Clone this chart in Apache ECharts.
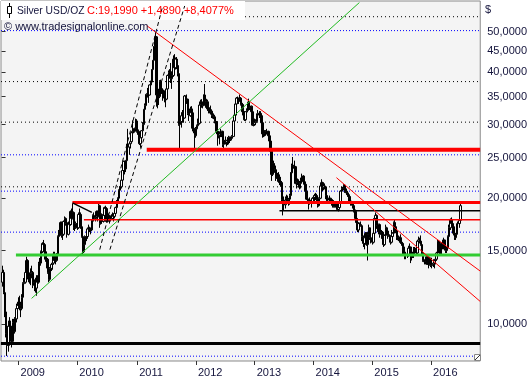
<!DOCTYPE html>
<html><head><meta charset="utf-8">
<script src="https://cdn.jsdelivr.net/npm/echarts@6/dist/echarts.min.js"></script>
<style>html,body{margin:0;padding:0;background:#fff}#c{width:530px;height:380px}</style>
</head><body><div id="c"></div>
<script>
// ---------------- data ----------------
const seriesName = 'Silver USD/OZ';
const sourceNote = '\u00a9 www.tradesignalonline.com';
const currencyUnit = '$';
const axisStartWeek = '2008-09-19';   // first (empty) weekly slot of the axis
const axisWeekCount = 424;
const firstCandleWeek = '2008-09-26';
const yTickValues = [10, 15, 20, 25, 30, 35, 40, 45, 50];

// weekly candles [open, high, low, close]
const ohlc2008 = [[12.6,13.8,12.3,13.3],[13.3,13.5,11.8,11.9],[11.9,12.3,10.4,10.7],[10.7,11.2,9.3,9.5],[9.5,9.8,8.4,8.9],[8.9,10.2,8.6,9.9],[9.9,10.4,9.4,9.9],[9.9,10.2,9.2,9.4],[9.4,9.7,8.8,9.1],[9.1,10.3,9.0,10.1],[10.1,10.3,9.2,9.6],[9.6,10.4,9.5,10.3],[10.3,11.2,10.1,10.9],[10.9,11.3,10.6,11.1]];
const ohlc2009 = [[11.1,11.6,10.9,11.3],[11.3,11.7,10.8,11.1],[11.1,11.3,10.4,10.9],[10.9,11.8,10.8,11.6],[11.6,12.6,11.5,12.5],[12.5,12.9,12.1,12.6],[12.6,13.5,12.5,13.3],[13.3,14.5,13.2,14.2],[14.2,14.3,12.8,13.0],[13.0,13.3,12.6,13.0],[13.0,13.3,12.5,12.9],[12.9,13.6,12.4,13.2],[13.2,13.8,13.0,13.3],[13.3,13.4,12.2,12.4],[12.4,12.8,12.0,12.6],[12.6,12.8,11.9,12.2],[12.2,13.1,11.7,12.9],[12.9,13.1,12.3,12.6],[12.6,14.1,12.5,14.0],[14.0,14.4,13.7,14.0],[14.0,15.0,13.8,14.9],[14.9,15.7,14.8,15.6],[15.6,15.9,15.2,15.5],[15.5,15.6,14.8,14.9],[14.9,15.1,14.1,14.3],[14.3,14.5,13.6,14.3],[14.3,14.4,13.2,13.3],[13.3,13.5,12.6,12.8],[12.8,13.7,12.7,13.6],[13.6,14.0,13.4,13.9],[13.9,14.1,13.5,14.0],[14.0,14.9,13.9,14.7],[14.7,14.9,14.0,14.2],[14.2,14.4,13.9,14.2],[14.2,14.8,14.1,14.7],[14.7,16.3,14.6,16.2],[16.2,16.8,15.9,16.7],[16.7,17.6,16.5,17.5],[17.5,17.6,16.1,16.3],[16.3,16.7,15.9,16.4],[16.4,17.7,16.3,17.6],[17.6,18.1,17.3,17.9],[17.9,18.0,17.2,17.4],[17.4,17.5,16.1,16.4],[16.4,17.6,16.3,17.5],[17.5,17.8,17.0,17.3],[17.3,18.7,17.2,18.6],[18.6,18.9,17.3,17.9],[17.9,19.45,17.8,18.5],[18.5,18.6,16.8,17.0],[17.0,17.6,16.7,17.0],[17.0,17.6,16.9,17.4]];
const ohlc2010 = [[17.4,17.5,16.8,17.0],[17.0,18.5,16.9,18.3],[18.3,18.9,17.9,18.3],[18.3,18.5,16.9,17.1],[17.1,17.3,16.1,16.2],[16.2,16.4,14.6,14.9],[14.9,15.8,14.8,15.5],[15.5,16.3,15.4,16.2],[16.2,16.4,15.8,16.2],[16.2,17.0,16.0,16.9],[16.9,17.3,16.7,17.0],[17.0,17.1,16.6,16.8],[16.8,16.9,16.4,16.8],[16.8,17.8,16.7,17.7],[17.7,18.3,17.6,18.2],[18.2,18.5,17.6,17.9],[17.9,18.2,17.6,18.0],[18.0,18.7,17.9,18.6],[18.6,18.7,17.6,18.1],[18.1,19.6,18.0,19.2],[19.2,19.3,17.0,17.4],[17.4,18.4,17.3,18.3],[18.3,18.4,17.4,17.6],[17.6,18.3,17.5,18.2],[18.2,19.1,18.1,19.0],[19.0,19.2,18.5,18.9],[18.9,19.0,17.5,17.6],[17.6,18.3,17.5,18.2],[18.2,18.4,17.8,18.0],[18.0,18.2,17.4,17.9],[17.9,18.2,17.6,17.9],[17.9,18.5,17.8,18.3],[18.3,18.4,17.6,18.1],[18.1,18.5,17.9,18.4],[18.4,19.1,18.3,19.0],[19.0,19.8,18.9,19.7],[19.7,20.1,19.4,20.0],[20.0,21.0,19.9,20.9],[20.9,21.4,20.6,21.3],[21.3,22.2,21.1,22.1],[22.1,23.5,21.9,23.3],[23.3,24.6,22.8,24.5],[24.5,24.6,22.8,23.5],[23.5,24.7,23.1,24.6],[24.6,27.0,24.4,26.8],[26.8,29.3,25.8,26.5],[26.5,27.2,25.4,27.0],[27.0,28.2,26.3,27.3],[27.3,28.8,27.2,28.7],[28.7,30.7,28.3,28.9],[28.9,29.4,28.6,28.9],[28.9,29.5,28.7,29.3],[29.3,31.0,29.2,30.6]];
const ohlc2011 = [[30.6,30.9,28.7,28.9],[28.9,29.2,28.0,28.4],[28.4,28.7,26.8,27.0],[27.0,28.1,26.4,27.9],[27.9,29.1,27.5,29.0],[29.0,30.4,28.8,30.0],[30.0,32.7,29.9,32.6],[32.6,33.7,31.4,33.3],[33.3,35.5,33.1,35.4],[35.4,36.7,34.8,35.6],[35.6,36.2,33.8,35.3],[35.3,37.4,35.2,37.3],[37.3,38.2,36.8,37.9],[37.9,40.7,37.8,40.6],[40.6,42.8,40.0,42.7],[42.7,46.2,42.6,46.0],[46.0,49.8,45.2,48.6],[48.6,48.8,33.1,35.3],[35.3,38.5,32.8,35.4],[35.4,36.5,33.4,35.0],[35.0,38.3,34.7,38.0],[38.0,38.4,35.8,36.5],[36.5,38.0,35.5,36.3],[36.3,36.6,34.2,35.3],[35.3,36.2,33.9,34.7],[34.7,35.2,33.0,34.5],[34.5,36.8,34.3,36.5],[36.5,39.5,36.1,39.3],[39.3,40.4,38.7,40.0],[40.0,40.7,38.6,40.0],[40.0,42.1,37.7,38.6],[38.6,40.2,36.5,39.3],[39.3,43.9,39.0,43.0],[43.0,44.2,39.5,41.0],[41.0,43.4,40.6,43.0],[43.0,43.5,40.7,41.5],[41.5,41.9,39.1,39.7],[39.7,40.1,29.8,30.0],[30.0,32.5,26.1,30.5],[30.5,32.1,29.5,31.5],[31.5,32.5,30.3,32.0],[32.0,32.3,30.3,31.1],[31.1,35.3,31.0,35.1],[35.1,35.2,32.3,34.3],[34.3,35.4,33.6,34.5],[34.5,34.6,31.6,31.9],[31.9,32.4,30.6,31.5],[31.5,33.1,31.3,32.7],[32.7,33.2,31.8,32.0],[32.0,32.3,28.9,29.4],[29.4,29.7,28.6,29.2],[29.2,29.3,26.2,28.2]];
const ohlc2012 = [[28.2,29.6,27.9,29.3],[29.3,30.0,28.6,29.8],[29.8,31.0,29.5,30.2],[30.2,33.6,30.0,33.4],[33.4,34.4,32.9,34.0],[34.0,34.5,32.9,33.5],[33.5,33.9,32.8,33.3],[33.3,35.4,33.2,35.3],[35.3,37.5,34.3,34.5],[34.5,34.8,32.9,34.0],[34.0,34.4,32.4,32.7],[32.7,33.0,31.9,32.4],[32.4,33.0,31.9,32.5],[32.5,33.3,31.7,32.3],[32.3,32.6,31.1,31.5],[31.5,32.0,31.0,31.6],[31.6,31.9,30.9,31.3],[31.3,31.5,30.2,30.5],[30.5,30.6,28.5,28.9],[28.9,29.4,26.7,28.5],[28.5,28.9,27.8,28.3],[28.3,28.9,26.9,28.5],[28.5,29.3,28.0,28.5],[28.5,29.0,28.0,28.9],[28.9,29.0,26.5,26.9],[26.9,27.8,26.1,27.5],[27.5,28.1,26.9,27.2],[27.2,27.5,26.6,27.5],[27.5,28.0,26.8,27.4],[27.4,28.2,26.9,27.9],[27.9,28.1,27.1,27.6],[27.6,28.1,27.4,27.8],[27.8,28.3,27.5,28.1],[28.1,30.8,28.0,30.6],[30.6,31.7,30.2,31.6],[31.6,33.7,31.3,33.6],[33.6,34.9,32.5,34.7],[34.7,35.0,33.9,34.3],[34.3,34.8,33.6,34.5],[34.5,35.4,34.0,34.7],[34.7,34.9,33.3,33.5],[33.5,33.8,32.0,32.2],[32.2,32.4,31.3,31.6],[31.6,32.3,30.6,30.8],[30.8,32.3,30.6,32.2],[32.2,32.8,31.8,32.4],[32.4,34.0,32.1,33.9],[33.9,34.6,32.6,33.0],[33.0,33.6,32.5,33.2],[33.2,33.3,31.9,32.2],[32.2,32.3,29.8,29.9],[29.9,30.6,29.7,30.0]];
const ohlc2013 = [[30.0,31.0,29.8,30.3],[30.3,30.9,29.9,30.5],[30.5,31.9,30.4,31.6],[31.6,32.5,31.4,31.9],[31.9,32.3,31.1,31.9],[31.9,32.3,31.3,31.5],[31.5,31.7,29.8,30.3],[30.3,30.4,27.9,28.5],[28.5,29.1,28.0,28.6],[28.6,29.1,28.1,28.8],[28.8,29.1,28.2,28.9],[28.9,29.3,28.4,28.9],[28.9,29.0,28.0,28.2],[28.2,28.2,26.8,27.4],[27.4,28.0,25.7,25.9],[25.9,26.1,22.0,22.8],[22.8,24.5,22.6,24.2],[24.2,24.6,23.2,23.9],[23.9,24.2,23.0,23.4],[23.4,23.6,22.0,22.3],[22.3,23.0,21.9,22.6],[22.6,23.1,21.9,22.2],[22.2,22.8,21.5,21.8],[21.8,22.5,21.3,21.8],[21.8,22.0,19.7,19.9],[19.9,20.3,18.2,19.5],[19.5,20.2,18.7,19.3],[19.3,20.2,18.9,19.8],[19.8,20.4,19.4,20.0],[20.0,20.3,19.4,19.8],[19.8,20.0,19.2,19.9],[19.9,20.5,19.3,20.3],[20.3,23.1,20.2,23.0],[23.0,24.2,22.6,24.0],[24.0,25.1,23.1,23.6],[23.6,24.6,22.8,23.8],[23.8,23.9,21.6,21.7],[21.7,23.6,21.1,21.9],[21.9,22.3,21.5,21.8],[21.8,22.2,21.2,21.8],[21.8,22.0,21.0,21.7],[21.7,22.4,21.1,22.1],[22.1,22.9,21.9,22.6],[22.6,22.7,21.7,21.9],[21.9,22.1,21.4,21.6],[21.6,21.7,20.7,20.8],[20.8,20.9,19.8,19.9],[19.9,20.2,19.6,19.9],[19.9,19.9,18.8,19.8],[19.8,20.1,19.3,19.6],[19.6,19.8,19.0,19.6],[19.6,20.1,19.4,20.0]];
const ohlc2014 = [[20.0,20.3,19.4,20.1],[20.1,20.5,19.6,20.3],[20.3,20.6,19.8,20.3],[20.3,20.5,19.7,19.9],[19.9,20.0,19.0,19.2],[19.2,20.1,19.1,20.0],[20.0,21.5,19.9,21.4],[21.4,22.2,21.2,21.8],[21.8,21.9,20.8,21.2],[21.2,21.7,20.9,21.4],[21.4,21.7,21.0,21.3],[21.3,21.4,19.9,20.3],[20.3,20.4,19.6,19.8],[19.8,20.1,19.5,20.0],[20.0,20.3,19.6,20.0],[20.0,20.0,19.4,19.5],[19.5,19.9,19.2,19.7],[19.7,19.9,19.0,19.6],[19.6,19.8,19.0,19.1],[19.1,19.6,19.0,19.4],[19.4,19.6,19.0,19.4],[19.4,19.5,18.7,18.8],[18.8,19.1,18.6,19.0],[19.0,19.8,18.9,19.6],[19.6,20.9,19.4,20.8],[20.8,21.3,20.6,21.1],[21.1,21.3,20.8,21.1],[21.1,21.6,20.9,21.5],[21.5,21.6,20.6,20.8],[20.8,21.1,20.4,20.6],[20.6,20.8,20.2,20.4],[20.4,20.5,19.8,20.2],[20.2,20.3,19.6,19.7],[19.7,19.8,19.2,19.4],[19.4,19.7,19.2,19.5],[19.5,19.6,18.9,19.2],[19.2,19.3,18.5,18.6],[18.6,18.8,17.7,17.9],[17.9,18.0,17.3,17.5],[17.5,17.6,16.6,16.8],[16.8,17.5,16.6,17.4],[17.4,17.5,16.9,17.3],[17.3,17.6,17.1,17.2],[17.2,17.2,15.8,16.2],[16.2,16.3,15.3,15.6],[15.6,16.2,15.1,16.1],[16.1,16.6,15.6,16.5],[16.5,16.6,15.4,15.5],[15.5,16.6,14.2,16.4],[16.4,17.3,16.2,17.0],[17.0,17.0,15.9,16.1],[16.1,16.3,15.6,15.9]];
const ohlc2015 = [[15.9,16.0,15.5,15.7],[15.7,16.6,15.6,16.5],[16.5,18.1,16.3,17.9],[17.9,18.5,17.7,18.2],[18.2,18.3,16.9,17.2],[17.2,17.4,16.6,16.7],[16.7,17.4,16.4,17.3],[17.3,17.4,16.1,16.4],[16.4,16.8,16.0,16.6],[16.6,16.7,15.9,16.1],[16.1,16.2,15.3,15.5],[15.5,16.4,15.4,16.3],[16.3,17.3,16.2,17.0],[17.0,17.1,16.4,16.7],[16.7,16.8,16.0,16.3],[16.3,16.4,15.9,16.2],[16.2,16.2,15.5,15.7],[15.7,16.8,15.6,16.2],[16.2,16.6,15.9,16.5],[16.5,17.6,16.4,17.5],[17.5,17.8,16.8,17.1],[17.1,17.2,16.5,16.7],[16.7,16.8,15.9,16.1],[16.1,16.3,15.8,15.9],[15.9,16.2,15.7,16.1],[16.1,16.4,15.6,15.7],[15.7,15.8,15.4,15.6],[15.6,15.7,14.6,15.3],[15.3,15.4,14.7,14.8],[14.8,14.9,14.3,14.6],[14.6,14.9,14.3,14.7],[14.7,15.1,14.4,14.6],[14.6,15.4,14.5,15.2],[15.2,15.6,14.9,15.3],[15.3,15.3,14.0,14.6],[14.6,14.8,14.2,14.6],[14.6,14.9,14.4,14.6],[14.6,15.3,14.4,15.2],[15.2,15.3,14.6,15.1],[15.1,15.2,14.6,14.8],[14.8,15.9,14.7,15.8],[15.8,16.2,15.7,15.9],[15.9,16.1,15.6,15.8],[15.8,16.3,15.4,15.5],[15.5,15.6,14.7,14.8],[14.8,14.9,14.1,14.2],[14.2,14.3,13.9,14.1],[14.1,14.3,13.9,14.1],[14.1,14.6,13.9,14.5],[14.5,14.6,13.9,13.9],[13.9,14.4,13.6,13.9],[13.9,14.5,13.8,14.4]];
const ohlc2016 = [[14.4,14.4,13.7,13.8],[13.8,14.2,13.6,13.9],[13.9,14.3,13.7,14.0],[14.0,14.3,13.6,14.2],[14.2,14.5,13.9,14.3],[14.3,14.9,14.2,14.8],[14.8,15.9,14.7,15.8],[15.8,15.9,15.1,15.3],[15.3,15.5,14.6,14.7],[14.7,15.7,14.6,15.6],[15.6,15.7,15.1,15.5],[15.5,16.1,15.1,15.9],[15.9,15.9,15.0,15.2],[15.2,15.3,14.8,15.0],[15.0,15.3,14.8,15.2],[15.2,16.3,15.1,16.2],[16.2,17.3,16.1,17.0],[17.0,17.9,16.8,17.8],[17.8,18.0,17.2,17.4],[17.4,17.5,16.9,17.1],[17.1,17.2,16.3,16.5],[16.5,16.6,15.9,16.1],[16.1,16.5,15.9,16.4],[16.4,17.4,16.3,17.4],[17.4,17.6,17.0,17.4],[17.4,18.0,17.0,17.71],[17.71,19.6,17.6,19.199]];

// drawn lines: [date, price] end points
const lineDown2011 = [['2011-03-07', 51.7], ['2016-10-31', 13.4]];
const lineDown2014 = [['2014-05-25', 22.4], ['2016-10-31', 11.34]];
const lineUp2009 = [['2009-03-24', 11.53], ['2014-10-14', 58.7]];
const channelA = [['2010-05-20', 15.08], ['2011-06-14', 57.6]];
const channelB = [['2010-07-22', 15.08], ['2011-10-28', 57.6]];
const lineHighs2010 = [['2009-12-02', 19.5], ['2010-04-01', 18.5]];
const levelRed26 = [['2011-03-07', 26.1], ['2016-10-31', 26.1]];
const levelRed19 = [['2009-12-02', 19.55], ['2016-10-31', 19.55]];
const levelRed17 = [['2010-02-11', 17.77], ['2016-10-31', 17.77]];
const levelBlack18 = [['2013-06-06', 18.66], ['2016-10-31', 18.66]];
const levelGreen14 = [['2008-12-17', 14.63], ['2016-10-31', 14.63]];
const levelBlack9 = [['2008-09-15', 8.99], ['2016-10-31', 8.99]];
const dottedBlackLevels = [54.3, 38.0, 30.4, 21.3];
const dottedBlueLevels = [50.3, 25.4, 20.8, 16.6, 8.39];

// ---------------- build ----------------
const DAY = 864e5;
const t0 = Date.parse(axisStartWeek + 'T00:00:00Z');
const idx = d => (Date.parse(d + 'T00:00:00Z') - t0) / (7 * DAY);
const categories = [];
for (let i = 0; i < axisWeekCount; i++) categories.push(new Date(t0 + i * 7 * DAY).toISOString().slice(0, 10));
const allCandles = [].concat(ohlc2008, ohlc2009, ohlc2010, ohlc2011, ohlc2012, ohlc2013, ohlc2014, ohlc2015, ohlc2016);
const firstIdx = Math.round(idx(firstCandleWeek));
const candleData = allCandles.map((c, n) => [firstIdx + n, c[0], c[3], c[2], c[1]]);
const last = allCandles[allCandles.length - 1], prev = allCandles[allCandles.length - 2];
const fmt = v => v.toFixed(4).replace('.', ',');
const chg = last[3] - prev[3];
const quoteText = 'C:' + fmt(last[3]) + ' ' + (chg >= 0 ? '+' : '') + fmt(chg) + ' ' + (chg >= 0 ? '+' : '') + fmt(chg / prev[3] * 100) + '%';

const isYearStart = i => i > 0 && categories[i].slice(0, 4) !== categories[i - 1].slice(0, 4);
const toXY = pts => pts.map(p => [idx(p[0]), p[1]]);
const lineSeries = (pts, color, width, type, z) => ({
  type: 'line', xAxisIndex: 1, yAxisIndex: 0, data: toXY(pts), symbol: 'none', silent: true,
  lineStyle: { color, width, type: type || 'solid', cap: 'butt' }, z: z || 3, clip: true, animation: false
});
const xMin = -0.5, xMax = axisWeekCount - 0.5;
const series = [];
dottedBlackLevels.forEach(v => series.push({ type: 'line', xAxisIndex: 1, data: [[xMin, v], [xMax, v]], symbol: 'none', silent: true, lineStyle: { color: '#000', width: 1, type: [1, 3] }, z: 1, animation: false }));
dottedBlueLevels.forEach(v => series.push({ type: 'line', xAxisIndex: 1, data: [[xMin, v], [xMax, v]], symbol: 'none', silent: true, lineStyle: { color: '#0000ff', width: 1, type: [1, 2] }, z: 1, animation: false }));
series.push({
  type: 'candlestick', xAxisIndex: 0, yAxisIndex: 0, data: candleData, encode: { x: 0, y: [1, 2, 3, 4] },
  barWidth: 2, z: 2, animation: false, silent: true,
  itemStyle: { color: '#ffffff', color0: '#000000', borderColor: '#000000', borderColor0: '#000000', borderWidth: 1 }
});
series.push(lineSeries(levelRed26, '#ff0000', 4));
series.push(lineSeries(levelRed19, '#ff0000', 3));
series.push(lineSeries(levelRed17, '#ff0000', 1.5));
series.push(lineSeries(levelBlack18, '#000000', 1.5));
series.push(lineSeries(levelGreen14, '#33cc33', 3));
series.push(lineSeries(levelBlack9, '#000000', 3));
series.push(lineSeries(lineDown2011, '#ff0000', 1));
series.push(lineSeries(lineDown2014, '#ff0000', 1));
series.push(lineSeries(lineUp2009, '#22bb22', 1));
series.push(lineSeries(lineHighs2010, '#000000', 1.5));
series.push(lineSeries(channelA, '#000000', 1, [4, 3]));
series.push(lineSeries(channelB, '#000000', 1, [4, 3]));

const chart = echarts.init(document.getElementById('c'), null, { renderer: 'canvas' });
const txtColor = '#14143c';
chart.setOption({
  animation: false,
  backgroundColor: '#ffffff',
  grid: { left: 1, right: 49, top: 1, bottom: 19, show: true, backgroundColor: '#f4f4f4', borderColor: '#8a8a8a', borderWidth: 1 },
  xAxis: [{
    type: 'category', data: categories, boundaryGap: true,
    axisLine: { show: false },
    axisTick: { show: true, alignWithLabel: true, interval: isYearStart, length: 4, lineStyle: { color: '#333' } },
    axisLabel: { interval: isYearStart, formatter: v => v.slice(0, 4), align: 'left', margin: 6, padding: [0, 0, 0, 2], fontSize: 11, fontFamily: 'Liberation Sans', color: txtColor, hideOverlap: false },
    splitLine: { show: false }
  }, {
    type: 'value', min: xMin, max: xMax, show: false
  }],
  yAxis: [{
    type: 'log', logBase: 10, position: 'right', min: 8.17, max: 59.2,
    axisLine: { show: false }, splitLine: { show: false }, minorTick: { show: false },
    axisTick: { show: true, length: 4, customValues: yTickValues, lineStyle: { color: '#333' } },
    axisLabel: { customValues: yTickValues, formatter: v => fmt(v), margin: 7, fontSize: 11, fontFamily: 'Liberation Sans', color: txtColor }
  }],
  series,
  graphic: { elements: [
    { type: 'rect', shape: { x: 1, y: 1, width: 244, height: 19 }, style: { fill: '#ffffff' }, z: 1.5, silent: true },
    { type: 'line', shape: { x1: 9.5, y1: 3, x2: 9.5, y2: 18 }, style: { stroke: '#000', lineWidth: 1 }, z: 10 },
    { type: 'rect', shape: { x: 7.5, y: 6.5, width: 4, height: 7 }, style: { fill: '#fff', stroke: '#000', lineWidth: 1 }, z: 10 },
    { type: 'text', x: 17, y: 11, style: { text: seriesName, fill: txtColor, font: '10.3px "Liberation Sans"', verticalAlign: 'middle' }, z: 10 },
    { type: 'text', x: 87, y: 11, style: { text: quoteText, fill: '#ff0000', font: '11px "Liberation Sans"', verticalAlign: 'middle' }, z: 10 },
    { type: 'text', x: 4, y: 27, style: { text: sourceNote, fill: txtColor, font: '11px "Liberation Sans"', verticalAlign: 'middle' }, z: 10 },
    { type: 'text', x: 485, y: 10, style: { text: currencyUnit, fill: txtColor, font: '11px "Liberation Sans"', verticalAlign: 'middle' }, z: 10 },
    { type: 'rect', shape: { x: 474.5, y: 354.5, width: 6, height: 6 }, style: { fill: '#fff', stroke: '#888', lineWidth: 1 }, z: 10 },
    { type: 'line', shape: { x1: 475, y1: 360, x2: 480, y2: 355 }, style: { stroke: '#333', lineWidth: 1 }, z: 10 }
  ] }
});
</script></body></html>
